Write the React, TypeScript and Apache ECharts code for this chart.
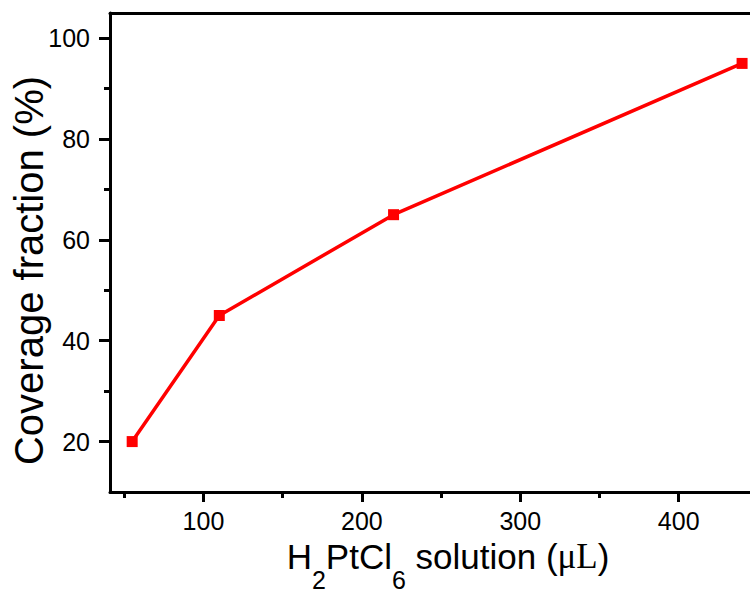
import React, { useEffect, useRef } from "react";
import * as echarts from "echarts";

const volumes = [55, 110, 220, 440];
const coverage = [20, 45, 65, 95];
const xMajorTicks = [100, 200, 300, 400];
const xMinorTicks = [50, 150, 250, 350];
const yMajorTicks = [20, 40, 60, 80, 100];
const yMinorTicks = [30, 50, 70, 90];

const FONT = "'Liberation Sans', Arial, sans-serif";

export default function App() {
  const ref = useRef<HTMLDivElement>(null);
  useEffect(() => {
    if (!ref.current) return;
    const chart = echarts.init(ref.current, undefined, { renderer: "svg" });
    const axisLine = { show: true, lineStyle: { color: "#000", width: 3 } };
    const xRange = { min: 41, max: 445 };
    const yRange = { min: 10, max: 105 };
    chart.setOption({
      animation: false,
      backgroundColor: "#fff",
      grid: { left: 110, right: 0, top: 13, bottom: 100, containLabel: false, outerBoundsMode: "none" },
      xAxis: [
        {
          type: "value",
          ...xRange,
          position: "bottom",
          axisLine,
          splitLine: { show: false },
          axisTick: { show: true, customValues: xMajorTicks, length: 10, lineStyle: { width: 3, color: "#000" } },
          axisLabel: { show: true, customValues: xMajorTicks, fontSize: 25, color: "#000", fontFamily: FONT, margin: 16 },
          name: "{n|H}{s|2}{n|PtCl}{s|6}{n| solution (}{m|μL}{n|)}",
          nameLocation: "middle",
          nameGap: 29,
          nameMoveOverlap: false,
          nameTextStyle: {
            padding: [0, 0, 0, 36],
            rich: {
              n: { fontSize: 35, fontFamily: FONT, color: "#000" },
              s: { fontSize: 25, fontFamily: FONT, color: "#000", padding: [46, 0, 0, 0] },
              m: { fontSize: 35, fontFamily: "'Liberation Serif', 'Times New Roman', serif", color: "#000" },
            },
          },
        },
        {
          type: "value",
          ...xRange,
          position: "bottom",
          axisLine: { show: false },
          splitLine: { show: false },
          axisTick: { show: true, customValues: xMinorTicks, length: 6, lineStyle: { width: 3, color: "#000" } },
          axisLabel: { show: false },
        },
        {
          type: "value",
          ...xRange,
          position: "top",
          axisLine,
          splitLine: { show: false },
          axisTick: { show: false },
          axisLabel: { show: false },
        },
      ],
      yAxis: [
        {
          type: "value",
          ...yRange,
          position: "left",
          axisLine,
          splitLine: { show: false },
          axisTick: { show: true, customValues: yMajorTicks, length: 11, lineStyle: { width: 3, color: "#000" } },
          axisLabel: { show: true, customValues: yMajorTicks, fontSize: 25, color: "#000", fontFamily: FONT, margin: 20 },
          name: "Coverage fraction (%)",
          nameLocation: "middle",
          nameGap: 61,
          nameMoveOverlap: false,
          nameTextStyle: { fontSize: 40, fontFamily: FONT, color: "#000", padding: [0, 36, 0, 0] },
        },
        {
          type: "value",
          ...yRange,
          position: "left",
          axisLine: { show: false },
          splitLine: { show: false },
          axisTick: { show: true, customValues: yMinorTicks, length: 6, lineStyle: { width: 3, color: "#000" } },
          axisLabel: { show: false },
        },
      ],
      series: [
        {
          type: "line",
          data: volumes.map((v, i) => [v, coverage[i]]),
          xAxisIndex: 0,
          yAxisIndex: 0,
          symbol: "rect",
          symbolSize: 11,
          clip: false,
          lineStyle: { color: "#ff0000", width: 3.5 },
          itemStyle: { color: "#ff0000" },
        },
      ],
    });
    return () => chart.dispose();
  }, []);
  return <div ref={ref} style={{ width: 750, height: 592, position: "absolute", left: 0, top: 0 }} />;
}
